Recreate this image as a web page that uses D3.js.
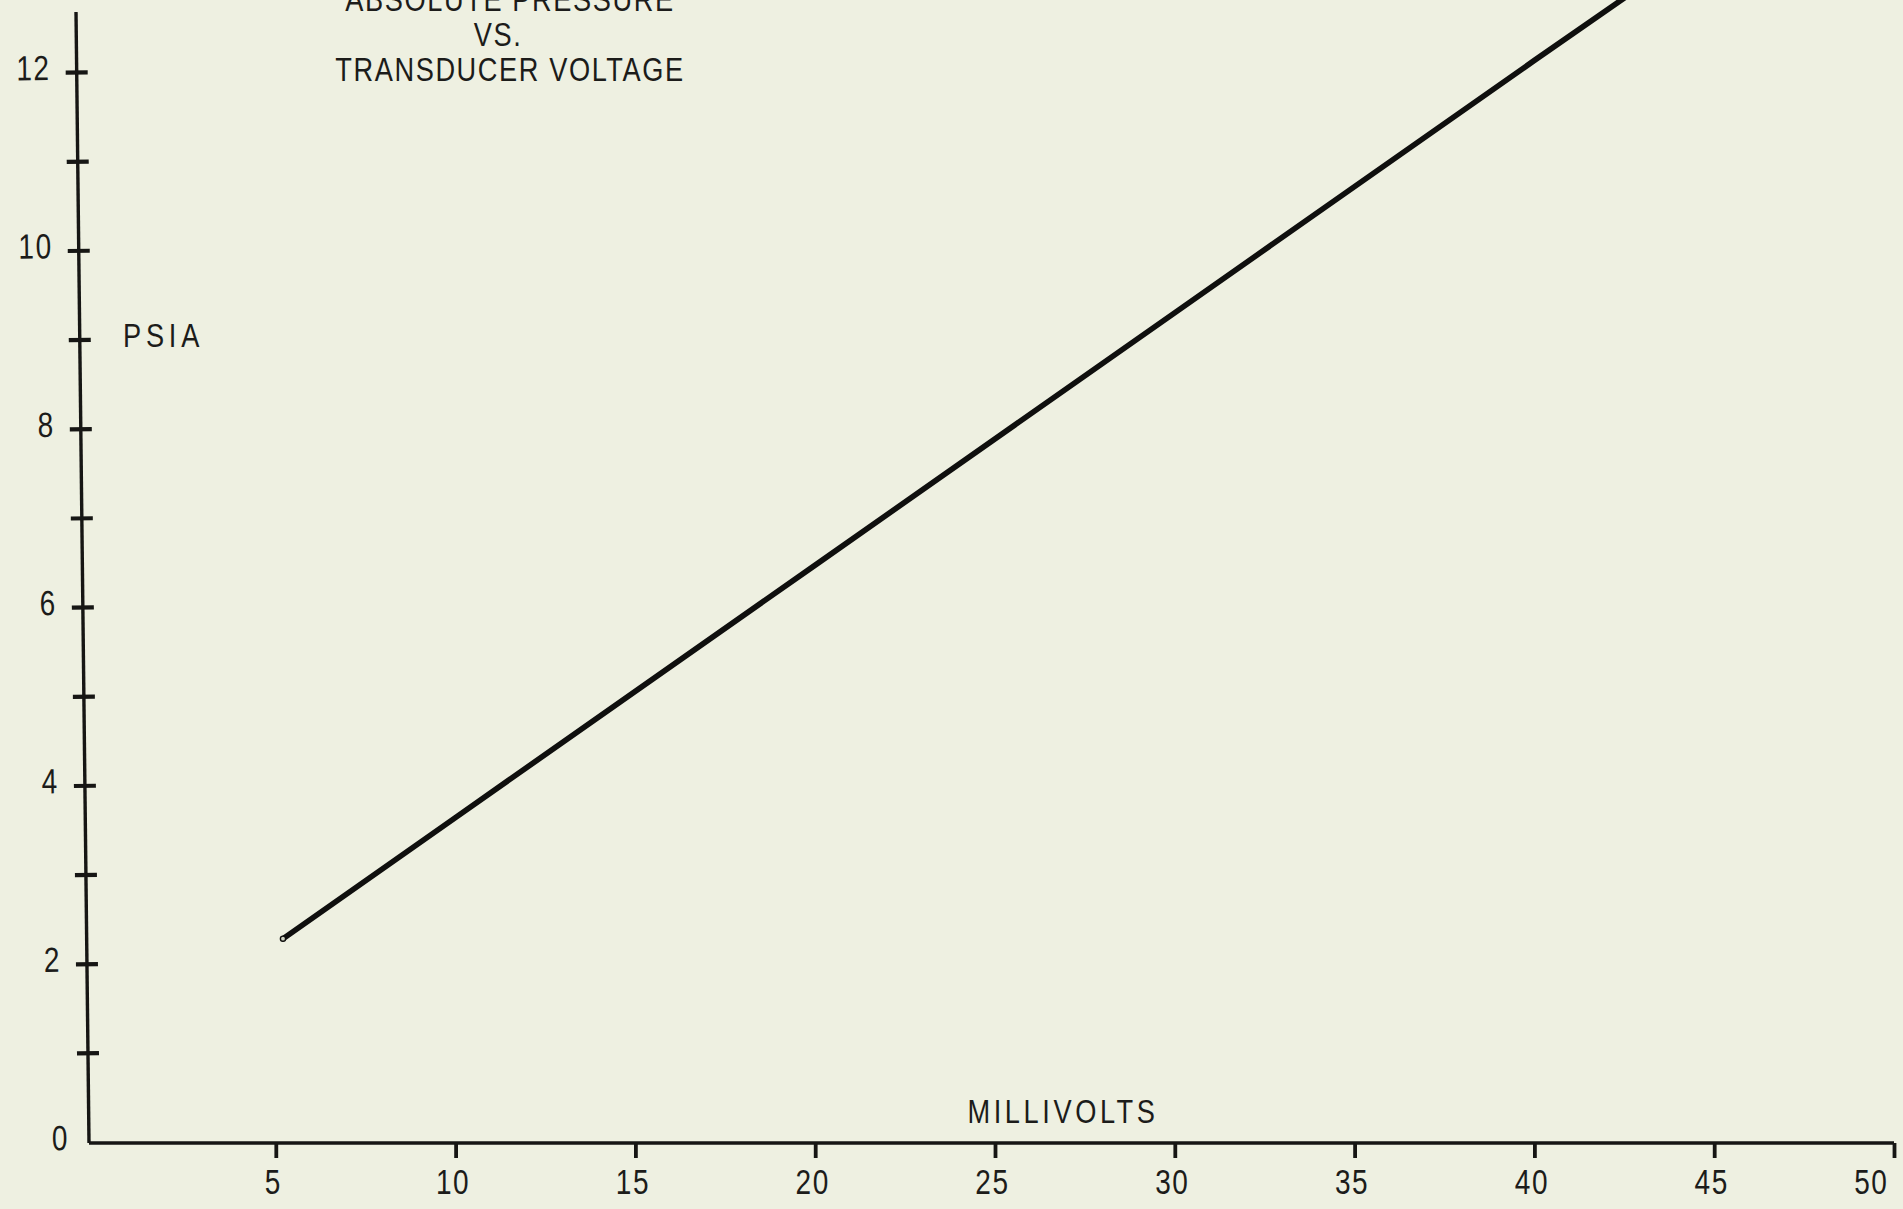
<!DOCTYPE html>
<html>
<head>
<meta charset="utf-8">
<script src="https://cdn.jsdelivr.net/npm/d3@7"></script>
<style>
  html, body { margin: 0; padding: 0; background: #eef0e1; overflow: hidden; }
  svg { display: block; }
  text { font-family: "Liberation Sans", Arial, sans-serif; fill: #1c1c1a; }
</style>
</head>
<body>
<svg id="chart" width="1903" height="1209"></svg>
<script>
// ---- data ----
const millivolts = [5.2, 10, 20, 30, 40, 43];
const psia       = [2.28, 3.64, 6.47, 9.30, 12.13, 12.97];
const xTickValues = [5, 10, 15, 20, 25, 30, 35, 40, 45, 50];
const yTickValues = [0, 1, 2, 3, 4, 5, 6, 7, 8, 9, 10, 11, 12];
const yLabelValues = [0, 2, 4, 6, 8, 10, 12];
const titleLines = ["ABSOLUTE PRESSURE", "VS.", "TRANSDUCER VOLTAGE"];
const xAxisTitle = "MILLIVOLTS";
const yAxisTitle = "PSIA";

// ---- layout ----
const W = 1903, H = 1209;
const svg = d3.select("#chart");
svg.append("rect").attr("width", W).attr("height", H).attr("fill", "#eef0e1");

const x = d3.scaleLinear().domain([0, 50]).range([96, 1894]);
const y = d3.scaleLinear().domain([0, 12]).range([1142, 72]);

const ink = "#161614";
const fontSize = 35;
const SX = 0.8;            // horizontal compression for the condensed lettering

const yAxisX = 89;          // y-axis position at its foot
const yAxisTop = 12;        // top end of the drawn y-axis
const tilt = -Math.atan(13 / (y(0) - yAxisTop)) * 180 / Math.PI;

function narrowText(parent, str, px, py, anchor, size, spacing) {
  return parent.append("text")
    .attr("transform", `translate(${px},${py}) scale(${SX},1)`)
    .attr("text-anchor", anchor)
    .style("font-size", size + "px")
    .style("letter-spacing", spacing + "px")
    .text(str);
}

// ---- y axis (slightly tilted like the hand-drawn original) ----
const gy = svg.append("g")
  .attr("transform", `translate(${yAxisX},0) rotate(${tilt},0,${y(0)})`);

gy.append("line")
  .attr("x1", 0).attr("x2", 0)
  .attr("y1", y(0) + 1).attr("y2", yAxisTop)
  .attr("stroke", ink).attr("stroke-width", 3.4);

const yAxis = d3.axisLeft(y)
  .tickValues(yTickValues)
  .tickSize(11)
  .tickPadding(20)
  .tickFormat(d => yLabelValues.includes(d) ? d : "");
gy.append("g").call(yAxis)
  .call(g => g.select(".domain").remove())
  .call(g => g.selectAll(".tick line")
      .attr("x1", 11)
      .attr("stroke", ink)
      .attr("stroke-width", 4.2)
      .attr("opacity", d => d === 0 ? 0 : 1))
  .call(g => g.selectAll(".tick text")
      .attr("fill", ink)
      .style("font-size", fontSize + "px")
      .style("letter-spacing", "2px")
      .attr("transform", `translate(0,${-4}) scale(${SX},1)`)
      .attr("x", d => (d === 0 ? -20 : -26) / SX));

// ---- x axis ----
const gx = svg.append("g").attr("transform", `translate(0,${y(0) + 1})`);
gx.append("line")
  .attr("x1", yAxisX).attr("x2", x(50))
  .attr("y1", 0).attr("y2", 0)
  .attr("stroke", ink).attr("stroke-width", 3.4);

const xAxis = d3.axisBottom(x)
  .tickValues(xTickValues)
  .tickSize(15)
  .tickPadding(11)
  .tickFormat(d3.format("d"));
gx.append("g").call(xAxis)
  .call(g => g.select(".domain").remove())
  .call(g => g.selectAll(".tick line")
      .attr("stroke", ink)
      .attr("stroke-width", 3.8))
  .call(g => g.selectAll(".tick text")
      .attr("fill", ink)
      .style("font-size", fontSize + "px")
      .style("letter-spacing", "2px")
      .attr("transform", `scale(${SX},1)`)
      .attr("x", d => (d === 50 ? -6 : -3) / SX)
      .attr("text-anchor", d => d === 50 ? "end" : "middle"));
svg.selectAll("g").attr("font-family", null);

// ---- axis titles ----
narrowText(svg, xAxisTitle, 1063, 1123, "middle", 34, 4.5);
narrowText(svg, yAxisTitle, 123, 347, "start", 34, 6);

// ---- chart title ----
titleLines.forEach((t, i) => {
  narrowText(svg, t, i === 1 ? 498 : 510, 11 + i * 35, "middle", 34, 2);
});

// ---- data line ----
const pts = millivolts.map((v, i) => [v, psia[i]]);
const line = d3.line().x(d => x(d[0])).y(d => y(d[1]));
svg.append("path")
  .datum(pts)
  .attr("d", line)
  .attr("fill", "none")
  .attr("stroke", "#0f0f0e")
  .attr("stroke-width", 5.6)
  .attr("stroke-linecap", "round");

svg.append("circle")
  .attr("cx", x(pts[0][0]))
  .attr("cy", y(pts[0][1]))
  .attr("r", 2.6)
  .attr("fill", "#cfd2c2")
  .attr("stroke", "#0f0f0e")
  .attr("stroke-width", 1.4);
</script>
</body>
</html>
